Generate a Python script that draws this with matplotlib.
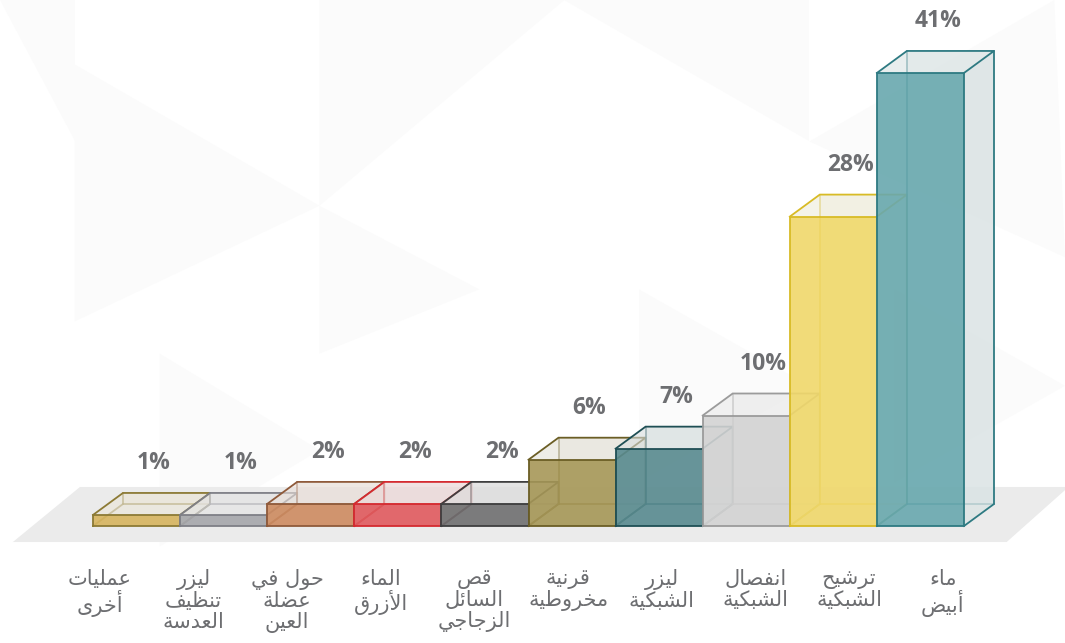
import matplotlib
matplotlib.use("Agg")
import matplotlib.pyplot as plt
from matplotlib.patches import Polygon
from matplotlib.colors import to_rgb

# ---------------- data ----------------
categories = [
    "عمليات\nأخرى",
    "ليزر\nتنظيف\nالعدسة",
    "حول في\nعضلة\nالعين",
    "الماء\nالأزرق",
    "قص\nالسائل\nالزجاجي",
    "قرنية\nمخروطية",
    "ليزر\nالشبكية",
    "انفصال\nالشبكية",
    "ترشيح\nالشبكية",
    "ماء\nأبيض",
]
values = [1, 1, 2, 2, 2, 6, 7, 10, 28, 41]
value_labels = ["1%", "1%", "2%", "2%", "2%", "6%", "7%", "10%", "28%", "41%"]
fill_colors = ["#d6b45e", "#a6a7ab", "#cd8b60", "#e05a5e", "#6f6f70",
               "#a69757", "#588a8f", "#d3d3d3", "#f0d86a", "#68a8ae"]
edge_colors = ["#8c7a35", "#7e7f86", "#8f5a3a", "#d42a30", "#3f3f40",
               "#6b5e25", "#1f4f55", "#9b9b9b", "#d8bb26", "#2e7a82"]

# ---------------- Arabic shaping (display only) ----------------
DUAL = {'ئ': 0xFE89, 'ب': 0xFE8F, 'ت': 0xFE95, 'ث': 0xFE99, 'ج': 0xFE9D, 'ح': 0xFEA1,
        'خ': 0xFEA5, 'س': 0xFEB1, 'ش': 0xFEB5, 'ص': 0xFEB9, 'ض': 0xFEBD, 'ط': 0xFEC1,
        'ظ': 0xFEC5, 'ع': 0xFEC9, 'غ': 0xFECD, 'ف': 0xFED1, 'ق': 0xFED5, 'ك': 0xFED9,
        'ل': 0xFEDD, 'م': 0xFEE1, 'ن': 0xFEE5, 'ه': 0xFEE9, 'ي': 0xFEF1}
RIGHT = {'آ': 0xFE81, 'أ': 0xFE83, 'ؤ': 0xFE85, 'إ': 0xFE87, 'ا': 0xFE8D, 'ة': 0xFE93,
         'د': 0xFEA9, 'ذ': 0xFEAB, 'ر': 0xFEAD, 'ز': 0xFEAF, 'و': 0xFEED, 'ى': 0xFEEF}
NONJ = {'ء': 0xFE80}
LAMALEF = {'آ': 0xFEF5, 'أ': 0xFEF7, 'إ': 0xFEF9, 'ا': 0xFEFB}


def shape_line(line):
    toks = []
    i = 0
    while i < len(line):
        c = line[i]
        if c == 'ل' and i + 1 < len(line) and line[i + 1] in LAMALEF:
            toks.append(('LA', line[i + 1]))
            i += 2
        else:
            toks.append(('C', c))
            i += 1

    def jn(t):
        return t[0] == 'C' and t[1] in DUAL

    def jp(t):
        return t[0] == 'LA' or t[1] in DUAL or t[1] in RIGHT

    out = []
    for k, t in enumerate(toks):
        prv = toks[k - 1] if k > 0 else None
        nxt = toks[k + 1] if k + 1 < len(toks) else None
        cp = prv is not None and jn(prv) and jp(t)
        cn = nxt is not None and jn(t) and jp(nxt)
        kind, c = t
        if kind == 'LA':
            out.append(chr(LAMALEF[c] + (1 if cp else 0)))
        elif c in DUAL:
            off = 3 if (cp and cn) else 1 if cp else 2 if cn else 0
            out.append(chr(DUAL[c] + off))
        elif c in RIGHT:
            out.append(chr(RIGHT[c] + (1 if cp else 0)))
        elif c in NONJ:
            out.append(chr(NONJ[c]))
        else:
            out.append(c)
    return ''.join(reversed(out))


def shape(text):
    return "\n".join(shape_line(l) for l in text.split("\n"))


def tint(c, base="#eeeeee", k=0.15):
    a = to_rgb(c)
    b = to_rgb(base)
    return tuple(k * x + (1 - k) * y for x, y in zip(a, b))


# ---------------- figure ----------------
W, H = 1065, 643
fig = plt.figure(figsize=(W / 100, H / 100), dpi=100)
fig.patch.set_facecolor("white")
ax = fig.add_axes([0, 0, 1, 1])
PXX = 87.1     # pixels per bar unit
PXY = 11.05    # pixels per percent
X0, Y0 = 93, 526
ax.set_xlim(-X0 / PXX, (W - X0) / PXX)
ax.set_ylim(-(H - Y0) / PXY, Y0 / PXY)
ax.axis("off")

# very faint background facets (decorative)
bg = [
    [(0.0, 1.0), (0.07, 1.0), (0.07, 0.78)],
    [(0.07, 0.9), (0.3, 0.68), (0.07, 0.5)],
    [(0.3, 1.0), (0.53, 1.0), (0.3, 0.68)],
    [(0.3, 0.68), (0.45, 0.55), (0.3, 0.45)],
    [(0.53, 1.0), (0.76, 1.0), (0.76, 0.78)],
    [(0.76, 0.78), (0.99, 1.0), (1.0, 0.6)],
    [(0.6, 0.55), (0.76, 0.4), (0.6, 0.25)],
    [(0.15, 0.45), (0.3, 0.3), (0.15, 0.15)],
    [(0.84, 0.55), (1.0, 0.4), (0.84, 0.25)],
]
for tri in bg:
    ax.add_patch(Polygon(tri, closed=True, transform=ax.transAxes,
                         facecolor="#fbfbfb", edgecolor="none", zorder=0))

DX = 30 / PXX
DY = 22 / PXY

# floor
floor = [(-0.92, -1.45), (-0.15, 3.53), (11.2, 3.53), (10.49, -1.45)]
ax.add_patch(Polygon(floor, closed=True, facecolor="#ebebeb",
                     edgecolor="none", zorder=1))

lw = 1.3
for i, (v, fc, ec) in enumerate(zip(values, fill_colors, edge_colors)):
    z = 10 + i * 6
    x0, x1 = i, i + 1
    h = v
    light = tint(fc)
    # back face (light)
    ax.add_patch(Polygon([(x0 + DX, DY), (x1 + DX, DY), (x1 + DX, h + DY), (x0 + DX, h + DY)],
                         facecolor=light, alpha=0.35, edgecolor="none", zorder=z))
    # hidden edges
    for seg in [[(x0, 0), (x0 + DX, DY)], [(x0 + DX, DY), (x1 + DX, DY)],
                [(x0 + DX, DY), (x0 + DX, h + DY)]]:
        xs, ys = zip(*seg)
        ax.plot(xs, ys, color=ec, lw=lw, alpha=0.8, zorder=z + 1, solid_capstyle="round")
    # right face
    ax.add_patch(Polygon([(x1, 0), (x1 + DX, DY), (x1 + DX, h + DY), (x1, h)],
                         facecolor=light, alpha=0.75, edgecolor="none", zorder=z + 2))
    # top face
    ax.add_patch(Polygon([(x0, h), (x0 + DX, h + DY), (x1 + DX, h + DY), (x1, h)],
                         facecolor=light, alpha=0.6, edgecolor="none", zorder=z + 2))
    # front face
    ax.add_patch(Polygon([(x0, 0), (x1, 0), (x1, h), (x0, h)],
                         facecolor=fc, alpha=0.9, edgecolor="none", zorder=z + 3))
    # visible edges
    segs = [
        [(x0, 0), (x1, 0), (x1, h), (x0, h), (x0, 0)],
        [(x0, h), (x0 + DX, h + DY), (x1 + DX, h + DY), (x1, h)],
        [(x1 + DX, h + DY), (x1 + DX, DY), (x1, 0)],
    ]
    for seg in segs:
        xs, ys = zip(*seg)
        ax.plot(xs, ys, color=ec, lw=lw, zorder=z + 4, solid_joinstyle="miter")

    # value label
    ax.text(x0 + 0.5 + 0.2, h + DY + 30 / PXY, value_labels[i],
            ha="center", va="center", fontsize=16.5, fontweight="bold",
            family="Open Sans", color="#6d6e71", zorder=200)

# category labels
for i, cat in enumerate(categories):
    ax.text(0.08 + 1.075 * i, -43 / PXY, shape(cat),
            ha="center", va="top", multialignment="center",
            fontsize=15, family=["DejaVu Sans"], color="#6d6e71",
            linespacing=1.05, zorder=200)

fig.savefig("out.png", dpi=100, facecolor="white")
